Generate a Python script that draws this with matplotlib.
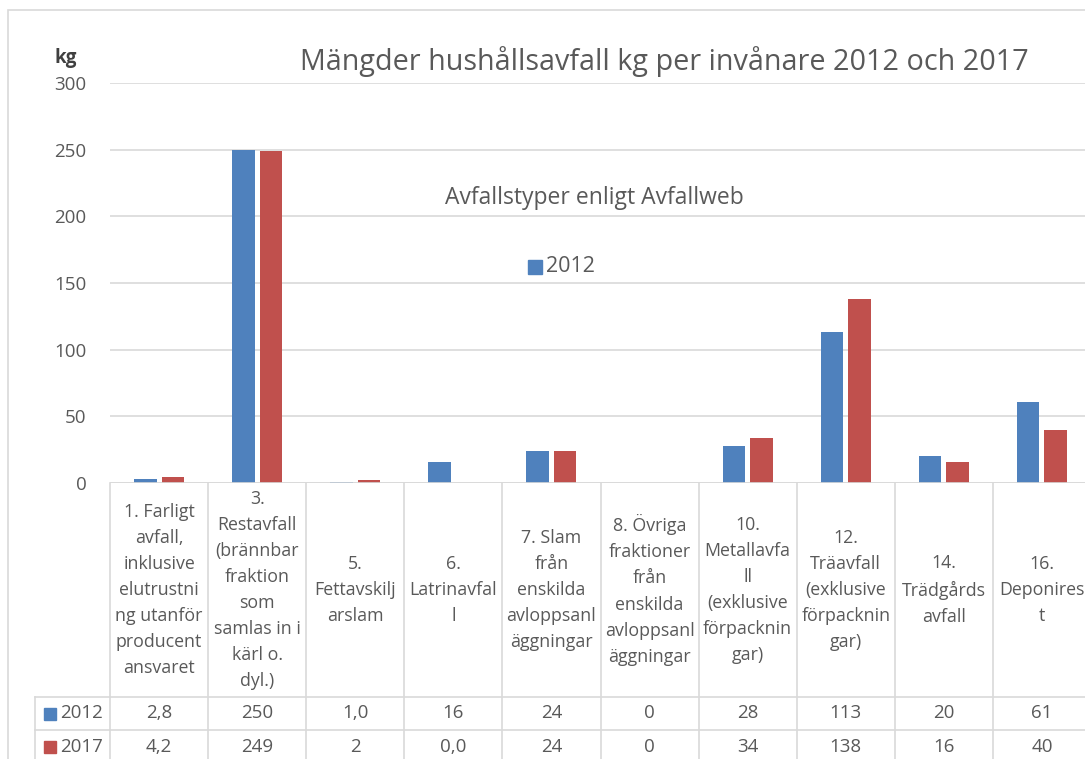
import matplotlib.pyplot as plt
import matplotlib.transforms as mtransforms
from matplotlib.patches import Rectangle
import numpy as np

plt.rcParams['font.family'] = ['Open Sans', 'DejaVu Sans']

# Data
categories = [
    "1. Farligt\navfall,\ninklusive\nelutrustni\nng utanför\nproducent\nansvaret",
    "3.\nRestavfall\n(brännbar\nfraktion\nsom\nsamlas in i\nkärl o.\ndyl.)",
    "5.\nFettavskilj\narslam",
    "6.\nLatrinavfal\nl",
    "7. Slam\nfrån\nenskilda\navloppsanl\näggningar",
    "8. Övriga\nfraktioner\nfrån\nenskilda\navloppsanl\näggningar",
    "10.\nMetallavfa\nll\n(exklusive\nförpacknin\ngar)",
    "12.\nTräavfall\n(exklusive\nförpacknin\ngar)",
    "14.\nTrädgårds\navfall",
    "16.\nDeponires\nt",
]
values_2012 = [2.8, 250, 1.0, 16, 24, 0, 28, 113, 20, 61]
values_2017 = [4.2, 249, 2, 0.0, 24, 0, 34, 138, 16, 40]
labels_2012 = ["2,8", "250", "1,0", "16", "24", "0", "28", "113", "20", "61"]
labels_2017 = ["4,2", "249", "2", "0,0", "24", "0", "34", "138", "16", "40"]
series_names = ["2012", "2017"]
yticks = [0, 50, 100, 150, 200, 250, 300]

blue = '#4F81BD'
red = '#C0504D'
grid_col = '#D9D9D9'
text_col = '#595959'
fs = 13.5

W, H = 1085, 759
fig = plt.figure(figsize=(W / 100, H / 100), dpi=100)

# plot area in pixel terms (right edge runs past the picture)
left, right, top, bottom = 110, 1091, 83, 483
ax = fig.add_axes([left / W, 1 - bottom / H, (right - left) / W, (bottom - top) / H])

# outer chart border
fig.patches.append(Rectangle((8 / W, -0.1), 1.2, 1 - 10 / H + 0.1, transform=fig.transFigure,
                             fill=False, edgecolor='#D9D9D9', linewidth=1.2))

x = np.arange(len(categories))
bw = 0.23
ax.bar(x - 0.14, values_2012, bw, color=blue, zorder=3)
ax.bar(x + 0.14, values_2017, bw, color=red, zorder=3)

ax.set_xlim(-0.5, len(categories) - 0.5)
ax.set_ylim(0, 300)
ax.set_yticks(yticks)
ax.set_yticklabels([str(t) for t in yticks], fontsize=fs, color=text_col)
ax.tick_params(axis='y', length=0, pad=17)
ax.set_xticks([])
ax.grid(axis='y', color=grid_col, linewidth=1.2, zorder=0)
for s in ax.spines.values():
    s.set_visible(False)
ax.axhline(0, color=grid_col, linewidth=1.2, zorder=4)

# titles
fig.text(300 / W, 1 - 62 / H, "Mängder hushållsavfall kg per invånare 2012 och 2017",
         fontsize=20.7, color=text_col, va='center', ha='left')
fig.text(54 / W, 1 - 58 / H, "kg", fontsize=fs, fontweight='bold', color='#404040',
         va='center', ha='left')
fig.text(445 / W, 1 - 198 / H, "Avfallstyper enligt Avfallweb",
         fontsize=16.5, color=text_col, va='center', ha='left')
fig.patches.append(Rectangle((528 / W, 1 - 274 / H), 14 / W, 14 / H,
                             transform=fig.transFigure, color=blue))
fig.text(546 / W, 1 - 267 / H, series_names[0], fontsize=15.5, color=text_col,
         va='center', ha='left')

# data table under the plot area
trans = mtransforms.blended_transform_factory(ax.transData, ax.transAxes)
ph = bottom - top
def ya(py):
    return (bottom - py) / ph

y_head = ya(697)
y_r1 = ya(730)
y_r2 = ya(763)
lw = 1.2
for i in range(len(categories) + 1):
    ax.plot([i - 0.5, i - 0.5], [0, y_r2], transform=trans, color=grid_col,
            linewidth=lw, clip_on=False)
ax.plot([-0.5, len(categories) - 0.5], [y_head, y_head], transform=trans,
        color=grid_col, linewidth=lw, clip_on=False)
# rows also span the legend column at the left
lx = (35 - left) / (right - left)
for yy in [y_head, y_r1, y_r2]:
    ax.plot([lx, 0], [yy, yy], transform=ax.transAxes, color=grid_col,
            linewidth=lw, clip_on=False)
ax.plot([lx, lx], [y_head, y_r2], transform=ax.transAxes, color=grid_col,
        linewidth=lw, clip_on=False)
ax.plot([0, 1], [y_r1, y_r1], transform=ax.transAxes, color=grid_col,
        linewidth=lw, clip_on=False)

for i, cat in enumerate(categories):
    ax.text(i, y_head / 2, cat, transform=trans, ha='center', va='center',
            fontsize=12.8, color=text_col, linespacing=1.58, clip_on=False)
    ax.text(i, (y_head + y_r1) / 2, labels_2012[i], transform=trans, ha='center',
            va='center', fontsize=fs, color=text_col, clip_on=False)
    ax.text(i, (y_r1 + y_r2) / 2, labels_2017[i], transform=trans, ha='center',
            va='center', fontsize=fs, color=text_col, clip_on=False)

for yy, name, col in [((y_head + y_r1) / 2, series_names[0], blue),
                      ((y_r1 + y_r2) / 2, series_names[1], red)]:
    kx = (44 - left) / (right - left)
    ax.add_patch(Rectangle((kx, yy - 6 / ph), 12 / (right - left), 12 / ph,
                           transform=ax.transAxes, color=col, clip_on=False))
    ax.text((60 - left) / (right - left), yy, name, transform=ax.transAxes,
            ha='left', va='center', fontsize=fs, color=text_col, clip_on=False)

fig.savefig('out.png', dpi=100)
